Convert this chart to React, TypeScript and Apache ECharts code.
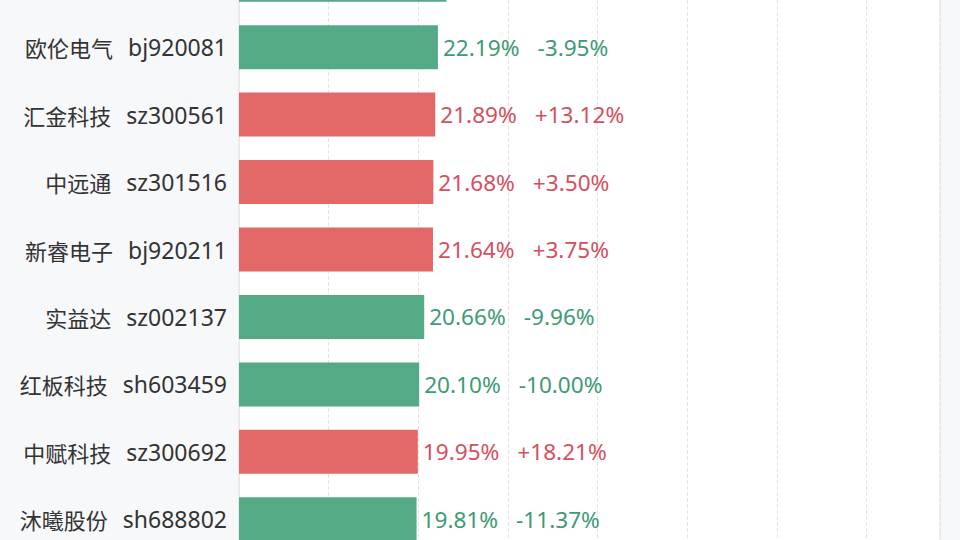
import React, { useEffect, useRef } from "react";
import * as echarts from "echarts";

const names = ["", "欧伦电气", "汇金科技", "中远通", "新睿电子", "实益达", "红板科技", "中赋科技", "沐曦股份"];
const codes = ["", "bj920081", "sz300561", "sz301516", "bj920211", "sz002137", "sh603459", "sz300692", "sh688802"];
const values = [23.13, 22.19, 21.89, 21.68, 21.64, 20.66, 20.1, 19.95, 19.81];
const changes: (number | null)[] = [null, -3.95, 13.12, 3.5, 3.75, -9.96, -10.0, 18.21, -11.37];

const RED = "#e26868";
const GREEN = "#55aa86";
const RED_TEXT = "#d4505f";
const GREEN_TEXT = "#3e9a74";
const FONT = "'Noto Sans CJK SC', 'Noto Sans', sans-serif";
const LATIN = "'Noto Sans', 'Noto Sans CJK SC', sans-serif";
const FS = 22;
const VFS = 22.6;

export default function App() {
  const ref = useRef<HTMLDivElement>(null);
  useEffect(() => {
    if (!ref.current) return;
    const chart = echarts.init(ref.current, undefined, { renderer: "svg" });
    const cats = names.map((n, i) => (n ? `${n}|${codes[i]}` : ""));
    chart.setOption({
      animation: false,
      backgroundColor: "#f7f8fa",
      textStyle: { fontFamily: FONT },
      grid: {
        left: 239,
        top: 6,
        width: 701,
        height: 607,
        show: true,
        backgroundColor: "#ffffff",
        borderColor: "#e3e3e3",
        borderWidth: 1,
        containLabel: false,
        outerBoundsMode: "none",
      },
      xAxis: {
        type: "value",
        min: 0,
        max: 78.2,
        interval: 10,
        axisLabel: { show: false },
        axisLine: { show: false },
        axisTick: { show: false },
        splitLine: { lineStyle: { type: "dashed", color: "#e4e4e4" } },
      },
      yAxis: {
        type: "category",
        inverse: true,
        data: cats,
        axisLine: { show: true, lineStyle: { color: "#e8e8e8" } },
        axisTick: { show: false },
        axisLabel: {
          margin: 12,
          formatter: (v: string) => {
            if (!v) return "";
            const [n, c] = v.split("|");
            return `{n|${n}}{c|${c}}`;
          },
          rich: {
            n: { fontSize: FS, color: "#333333", fontFamily: FONT },
            c: { fontSize: 23, color: "#333333", fontFamily: LATIN, padding: [0, 0, 0, 15] },
          },
        },
      },
      series: [
        {
          type: "bar",
          barWidth: 44,
          data: values.map((v, i) => ({
            value: v,
            itemStyle: { color: (changes[i] ?? -1) > 0 ? RED : GREEN },
            label: { show: changes[i] != null },
          })),
          label: {
            show: true,
            position: "right",
            distance: 5,
            formatter: (p: any) => {
              const ch = changes[p.dataIndex];
              const up = (ch ?? -1) > 0;
              const k = up ? "r" : "g";
              const chs = ch == null ? "" : (ch > 0 ? "+" : "") + ch.toFixed(2) + "%";
              return `{${k}|${p.value.toFixed(2)}%}{${k}2|${chs}}`;
            },
            rich: {
              r: { fontSize: VFS, color: RED_TEXT, fontFamily: LATIN },
              r2: { fontSize: VFS, color: RED_TEXT, fontFamily: LATIN, padding: [0, 0, 0, 18] },
              g: { fontSize: VFS, color: GREEN_TEXT, fontFamily: LATIN },
              g2: { fontSize: VFS, color: GREEN_TEXT, fontFamily: LATIN, padding: [0, 0, 0, 18] },
            },
          },
        },
      ],
    });
    return () => chart.dispose();
  }, []);
  return (
    <div style={{ position: "absolute", left: 0, top: 0, width: 960, height: 540, overflow: "hidden" }}>
      <div ref={ref} style={{ position: "absolute", left: 0, top: -60, width: 960, height: 660 }} />
    </div>
  );
}
